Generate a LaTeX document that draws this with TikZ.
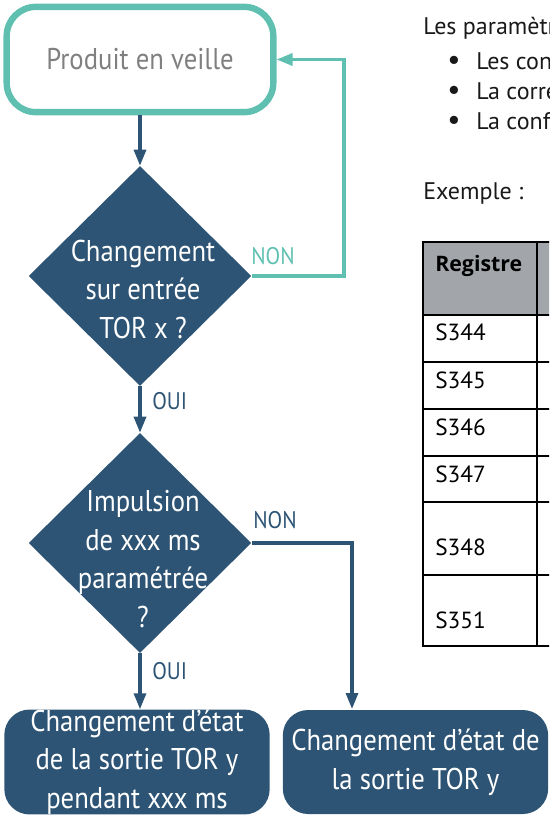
\documentclass[tikz,border=0pt]{standalone}
\usepackage{fontspec}
\setmainfont{PT Sans}[FakeStretch=0.89]
\newfontfamily\textelarge{PT Sans}
\newfontfamily\textegras{Open Sans}
\usetikzlibrary{positioning,shapes.geometric,arrows.meta}
\definecolor{bleufonce}{HTML}{2D5474}
\definecolor{turquoise}{HTML}{5FC0B1}
\definecolor{grisclair}{HTML}{A2A6AB}
\definecolor{gristexte}{HTML}{808080}

\begin{document}
\begin{tikzpicture}[x=0.75pt, y=-0.75pt, >={Triangle[length=12pt,width=9pt]}]
      \tikzset{
	  attente/.style={rectangle, rounded corners=22pt, draw=turquoise, line width=4.8pt, text=gristexte, minimum width=200pt, minimum height=79pt, font=\fontsize{22.5}{29}\selectfont},
	  test/.style={diamond, fill=bleufonce, inner sep=0pt, minimum width=167pt, minimum height=165pt},
	  testtexte/.style={text=white, align=center, inner sep=0pt, font=\fontsize{22.5}{29}\selectfont},
	  sortie/.style={rectangle, rounded corners=19pt, fill=bleufonce, text=white, align=center, inner sep=0pt, minimum width=199pt, minimum height=78pt, font=\fontsize{22.5}{29}\selectfont},
	  fleche/.style={bleufonce, line width=2.4pt, ->},
	  retour/.style={turquoise, line width=2.4pt, ->},
	  reponse/.style={anchor=base west, inner sep=0pt, font=\fontsize{18}{22}\selectfont},
	  texte/.style={anchor=base west, inner sep=0pt, text=black!90, font=\textelarge\fontsize{18}{22}\selectfont},
	  cellule/.style={anchor=base west, inner sep=0pt, font=\textelarge\fontsize{17.5}{21}\selectfont},
      }
      \path [use as bounding box] (0, 0) rectangle (549, 816);
      \clip (0, 0) rectangle (549, 816);

      % organigramme
      \node (veille) at (140, 59.5) [attente] {Produit en veille};
      \node (entree) at (140, 276) [test] {};
      \node (entreetxt) at (143, 276) [testtexte, yshift=-10pt] {Changement\\sur entrée\\TOR x ?};
      \node (impulsion) at (140, 543) [test] {};
      \node (impulsiontxt) at (143, 543) [testtexte, yshift=-12pt] {Impulsion\\de xxx ms\\paramétrée\\?};
      \node (sortiep) at (137, 762) [sortie] {Changement d’état\\de la sortie TOR y\\pendant xxx ms};
      \node (sortie) at (415.5, 762) [sortie] {Changement d’état de\\la sortie TOR y};

      \draw [fleche] (veille) -- (entree);
      \draw [fleche] (entree) -- (impulsion);
      \draw [fleche] (impulsion.south) -- (impulsion.south |- sortiep.north);
      \coordinate (coude) at (344, 276);
      \draw [retour] (entree.east) -- (coude) |- (veille.east);
      \coordinate (nonbas) at (352, 709);
      \draw [fleche] (impulsion.east) -| (nonbas);

      \node (non1) at (251, 265) [reponse, text=turquoise] {NON};
      \node (oui1) at (152, 409) [reponse, text=bleufonce] {OUI};
      \node (non2) at (253, 528) [reponse, text=bleufonce] {NON};
      \node (oui2) at (152, 679) [reponse, text=bleufonce] {OUI};

      % texte de droite
      \node (intro) at (423, 35) [texte] {Les paramètre};
      \node (puce1) at (447, 70) [texte] {\makebox[21.75pt][l]{\fontsize{22}{22}\selectfont•}Les cont};
      \node (puce2) at (447, 100) [texte] {\makebox[21.75pt][l]{\fontsize{22}{22}\selectfont•}La corre};
      \node (puce3) at (447, 130) [texte] {\makebox[21.75pt][l]{\fontsize{22}{22}\selectfont•}La confi};
      \node (exemple) at (423, 200) [texte] {Exemple :};

      % tableau
      \fill [grisclair] (423, 242) rectangle (560, 315);
      \foreach \y in {315, 362, 409, 456, 502, 575}
        \draw [line width=1.3pt] (423, \y) -- (560, \y);
      \draw [line width=1.3pt] (537, 242) -- (537, 646);
      \draw [line width=2pt] (423, 242) rectangle (560, 646);
      \node (registre) at (435, 272) [cellule, font=\textegras\bfseries\fontsize{16}{20}\selectfont] {Registre};
      \foreach \reg/\y in {S344/340, S345/388, S346/435, S347/482, S348/555, S351/628}
        \node (\reg) at (435, \y) [cellule] {\reg};
\end{tikzpicture}
\end{document}
